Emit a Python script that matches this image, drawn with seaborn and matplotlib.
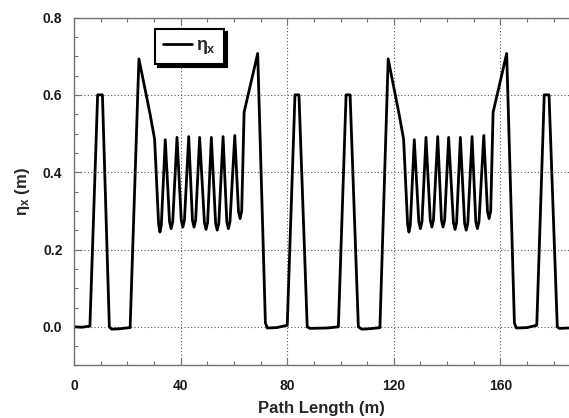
import matplotlib
matplotlib.use("Agg")
import matplotlib.pyplot as plt
from matplotlib.ticker import MultipleLocator
import seaborn as sns

# Path length (m) and horizontal dispersion eta_x (m)
path_length = [
    0.0, 3.0, 5.9, 8.8, 10.6, 13.2, 14.0, 17.0, 21.0,
    24.3, 28.5, 30.2,
    31.7, 32.2, 32.7, 34.2,
    35.8, 36.4, 37.0, 38.6,
    40.2, 40.8, 41.4, 43.0,
    44.4, 45.0, 45.6, 47.1,
    48.9, 49.5, 50.1, 51.5,
    53.1, 53.7, 54.3, 55.9,
    57.3, 57.9, 58.5, 60.3,
    61.7, 62.3, 62.9,
    63.8, 68.9, 71.8, 72.5, 76.0, 80.0,
    82.9, 84.4, 87.5, 88.5, 95.0, 99.2,
    102.1, 103.6, 106.7, 108.0, 111.0, 114.8,
    117.9, 122.0, 123.7,
    125.2, 125.7, 126.2, 127.7,
    129.4, 130.0, 130.6, 132.1,
    133.7, 134.3, 134.9, 136.5,
    137.9, 138.5, 139.1, 140.6,
    142.4, 143.0, 143.6, 145.0,
    146.6, 147.2, 147.8, 149.4,
    150.8, 151.4, 152.0, 153.8,
    155.2, 155.8, 156.4,
    157.3, 162.4, 165.3, 166.0, 170.0, 173.7,
    176.5, 178.3, 181.4, 182.2, 185.8,
]
eta_x = [
    0.0, -0.001, 0.002, 0.60, 0.60, 0.0, -0.006, -0.005, -0.002,
    0.693, 0.55, 0.485,
    0.265, 0.245, 0.262, 0.484,
    0.272, 0.254, 0.272, 0.490,
    0.276, 0.258, 0.276, 0.492,
    0.276, 0.258, 0.276, 0.490,
    0.270, 0.252, 0.270, 0.490,
    0.268, 0.250, 0.268, 0.492,
    0.272, 0.254, 0.272, 0.495,
    0.298, 0.280, 0.300,
    0.555, 0.707, 0.010, -0.003, -0.002, 0.004,
    0.60, 0.60, 0.0, -0.004, -0.003, 0.0,
    0.60, 0.60, 0.0, -0.006, -0.005, -0.002,
    0.693, 0.55, 0.485,
    0.265, 0.245, 0.262, 0.484,
    0.272, 0.254, 0.272, 0.490,
    0.276, 0.258, 0.276, 0.492,
    0.276, 0.258, 0.276, 0.490,
    0.270, 0.252, 0.270, 0.490,
    0.268, 0.250, 0.268, 0.492,
    0.272, 0.254, 0.272, 0.495,
    0.298, 0.280, 0.300,
    0.555, 0.707, 0.010, -0.003, -0.002, 0.004,
    0.60, 0.60, 0.0, -0.004, -0.003,
]

x_ticks = [0, 40, 80, 120, 160]
y_ticks = [0.0, 0.2, 0.4, 0.6, 0.8]
y_tick_labels = ["0.0", "0.2", "0.4", "0.6", "0.8"]

sns.set_theme(style="ticks")
plt.rcParams["font.family"] = ["Liberation Sans", "DejaVu Sans"]
plt.rcParams["mathtext.fontset"] = "custom"
plt.rcParams["mathtext.rm"] = "Liberation Sans:bold"
plt.rcParams["mathtext.it"] = "Liberation Sans:bold"
plt.rcParams["mathtext.bf"] = "Liberation Sans:bold"

fig = plt.figure(figsize=(5.69, 4.18), dpi=100)
ax = fig.add_axes([0.1304, 0.1256, 0.8696, 0.8325])

sns.lineplot(x=path_length, y=eta_x, ax=ax, color="black", linewidth=2.0,
             sort=False, estimator=None, label=r"$\eta_x$")

ax.set_xlim(0, 185.8)
ax.set_ylim(-0.1, 0.8)
ax.set_xticks(x_ticks)
ax.set_yticks(y_ticks)
ax.set_yticklabels(y_tick_labels)
ax.xaxis.set_minor_locator(MultipleLocator(10))
ax.yaxis.set_minor_locator(MultipleLocator(0.05))
ax.tick_params(which="both", direction="in", top=True, right=False,
               colors="0.45", labelcolor="#1a1a1a", width=0.8)
ax.tick_params(which="major", length=5, labelsize=10)
ax.tick_params(axis="y", which="major", pad=8.5)
ax.tick_params(axis="x", which="major", pad=9.5)
ax.tick_params(which="minor", length=3)
for lbl in ax.get_xticklabels() + ax.get_yticklabels():
    lbl.set_fontweight("bold")

ax.grid(True, which="major", color="0.35", linestyle=(0, (1, 2)), linewidth=0.8)
for side in ["left", "bottom", "top"]:
    ax.spines[side].set_color("0.45")
    ax.spines[side].set_linewidth(1.0)
ax.spines["right"].set_visible(False)

ax.set_xlabel("Path Length (m)", fontsize=12, fontweight="bold", labelpad=6)
ax.set_ylabel(r"$\eta_x$ (m)", fontsize=12, fontweight="bold", labelpad=8)

leg = ax.legend(loc="upper left", bbox_to_anchor=(0.163, 0.967), borderaxespad=0,
                frameon=True, fancybox=False, shadow={"color": "black", "alpha": 1},
                fontsize=13, handlelength=1.6, handletextpad=0.25, borderpad=0.45)
leg.get_frame().set_edgecolor("black")
leg.get_frame().set_linewidth(1.5)
leg.get_frame().set_facecolor("white")
leg.get_frame().set_alpha(1)
for line in leg.get_lines():
    line.set_linewidth(2.0)

fig.savefig("out.png", dpi=100)
